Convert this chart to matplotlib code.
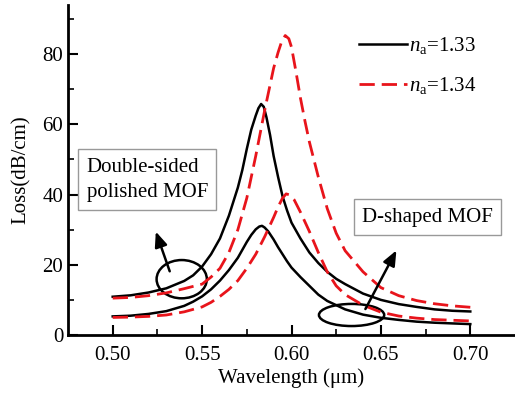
import matplotlib
matplotlib.use('Agg')
import matplotlib.pyplot as plt
from matplotlib.patches import Ellipse

plt.rcParams['font.family'] = ['Liberation Serif', 'DejaVu Serif']
plt.rcParams['mathtext.fontset'] = 'custom'
plt.rcParams['mathtext.rm'] = 'Liberation Serif'
plt.rcParams['mathtext.it'] = 'Liberation Serif:italic'

# Double-sided polished MOF, na = 1.33
wl_ds133 = [0.50, 0.51, 0.52, 0.53, 0.54, 0.545, 0.55, 0.555, 0.56, 0.565, 0.57, 0.5725,
            0.575, 0.5775, 0.58, 0.5815, 0.583, 0.5845, 0.586, 0.588, 0.59, 0.5925, 0.595,
            0.5975, 0.60, 0.605, 0.61, 0.615, 0.62, 0.625, 0.63, 0.64, 0.65, 0.66, 0.67,
            0.68, 0.69, 0.70]
loss_ds133 = [10.9, 11.3, 12.1, 13.3, 15.4, 17.0, 19.5, 23.0, 27.5, 34.0, 42.0, 47.0,
              53.0, 58.5, 62.5, 64.6, 65.8, 65.0, 62.0, 57.0, 51.0, 45.0, 39.5,
              35.5, 32.0, 27.5, 23.5, 20.5, 18.0, 16.0, 14.5, 11.8, 10.0, 8.8, 8.0,
              7.3, 6.9, 6.7]

# Double-sided polished MOF, na = 1.34
wl_ds134 = [0.50, 0.51, 0.52, 0.53, 0.54, 0.55, 0.555, 0.56, 0.565, 0.57, 0.575, 0.58, 0.585,
            0.59, 0.5925, 0.5945, 0.5965, 0.5985, 0.60, 0.6025, 0.605, 0.6075, 0.61, 0.615,
            0.62, 0.625, 0.63, 0.64, 0.65, 0.66, 0.67, 0.68, 0.69, 0.70]
loss_ds134 = [10.5, 10.7, 11.2, 12.0, 13.2, 14.5, 16.5, 19.0, 23.5, 30.0, 39.0, 51.0, 64.0,
              76.0, 80.5, 83.6, 85.3, 84.4, 82.0, 75.0, 67.5, 61.0, 55.0, 45.0,
              36.0, 29.0, 24.0, 18.0, 13.5, 11.2, 9.8, 8.9, 8.3, 7.9]

# D-shaped MOF, na = 1.33
wl_d133 = [0.50, 0.51, 0.52, 0.53, 0.54, 0.545, 0.55, 0.555, 0.56, 0.565, 0.57, 0.575, 0.5775,
           0.58, 0.582, 0.5835, 0.585, 0.587, 0.59, 0.5925, 0.595, 0.5975, 0.60, 0.605, 0.61,
           0.615, 0.62, 0.63, 0.64, 0.65, 0.66, 0.67, 0.68, 0.69, 0.70]
loss_d133 = [5.3, 5.5, 6.0, 6.8, 8.3, 9.5, 11.0, 13.0, 15.5, 18.5, 22.0, 26.5, 28.5,
             30.1, 30.9, 31.1, 30.6, 29.5, 27.2, 25.0, 23.0, 21.0, 19.2, 16.5, 14.0,
             11.5, 9.7, 7.3, 5.8, 4.9, 4.3, 3.8, 3.5, 3.3, 3.1]

# D-shaped MOF, na = 1.34
wl_d134 = [0.50, 0.51, 0.52, 0.53, 0.54, 0.55, 0.555, 0.56, 0.565, 0.57, 0.575, 0.58, 0.585,
           0.59, 0.5925, 0.595, 0.597, 0.599, 0.6015, 0.605, 0.61, 0.615, 0.62, 0.625, 0.63,
           0.64, 0.65, 0.66, 0.67, 0.68, 0.69, 0.70]
loss_d134 = [5.0, 5.1, 5.3, 5.7, 6.6, 8.0, 9.3, 11.0, 13.0, 15.5, 19.0, 23.0, 28.0,
             33.5, 36.5, 39.0, 40.2, 39.9, 38.5, 35.0, 29.5, 23.5, 18.0, 14.0, 11.5,
             8.5, 6.5, 5.4, 4.8, 4.4, 4.2, 4.0]

labels = [r'$n_{\rm a}$=1.33', r'$n_{\rm a}$=1.34']

fig = plt.figure(figsize=(5.15, 3.94), dpi=100)
ax = fig.add_axes([68/515, 59/394, 447/515, 330/394])

dash = (0, (5.5, 2.5))
ax.plot(wl_ds133, loss_ds133, color='black', lw=1.8, label=labels[0])
ax.plot(wl_ds134, loss_ds134, color='#e8141b', lw=2.0, ls=dash, label=labels[1])
ax.plot(wl_d133, loss_d133, color='black', lw=1.8)
ax.plot(wl_d134, loss_d134, color='#e8141b', lw=2.0, ls=dash)

ax.set_xlim(0.475, 0.725)
ax.set_ylim(0, 94)
ax.set_xticks([0.50, 0.55, 0.60, 0.65, 0.70])
ax.set_xticklabels(['0.50', '0.55', '0.60', '0.65', '0.70'])
ax.set_xticks([0.525, 0.575, 0.625, 0.675], minor=True)
ax.set_yticks([0, 20, 40, 60, 80])
ax.set_yticks([10, 30, 50, 70, 90], minor=True)
ax.tick_params(which='major', direction='in', length=7, width=1.5, labelsize=15)
ax.tick_params(which='minor', direction='in', length=4, width=1.2)
ax.tick_params(axis='x', pad=8)
for s in ['top', 'right']:
    ax.spines[s].set_visible(False)
for s in ['left', 'bottom']:
    ax.spines[s].set_linewidth(2)

ax.set_xlabel('Wavelength (\u03bcm)', fontsize=15, labelpad=2)
ax.set_ylabel('Loss(dB/cm)', fontsize=15, labelpad=8)

ax.legend(loc='upper right', bbox_to_anchor=(0.955, 0.965), frameon=False, fontsize=15,
          handlelength=2.3, handletextpad=0.1, labelspacing=0.9)

# annotations
ax.add_patch(Ellipse((0.5386, 15.9), 0.0281, 10.9, fill=False, lw=1.8, color='black'))
ax.add_patch(Ellipse((0.6336, 5.7), 0.0365, 6.3, fill=False, lw=1.8, color='black'))
ax.annotate('', xy=(0.5236, 30.2), xytext=(0.5324, 17.4),
            arrowprops=dict(arrowstyle='-|>,head_length=0.6,head_width=0.25',
                            color='black', lw=1.8, mutation_scale=15))
ax.annotate('', xy=(0.6594, 24.8), xytext=(0.6406, 6.7),
            arrowprops=dict(arrowstyle='-|>,head_length=0.6,head_width=0.25',
                            color='black', lw=1.8, mutation_scale=15))

box = dict(boxstyle='square,pad=0.4', fc='white', ec='#999999', lw=1)
ax.text(0.4855, 44.2, 'Double-sided\npolished MOF', fontsize=15, va='center', ha='left',
        bbox=box, linespacing=1.45)
ax.text(0.6395, 33.6, 'D-shaped MOF', fontsize=15, va='center', ha='left', bbox=box)

fig.savefig('out.png', dpi=100)
